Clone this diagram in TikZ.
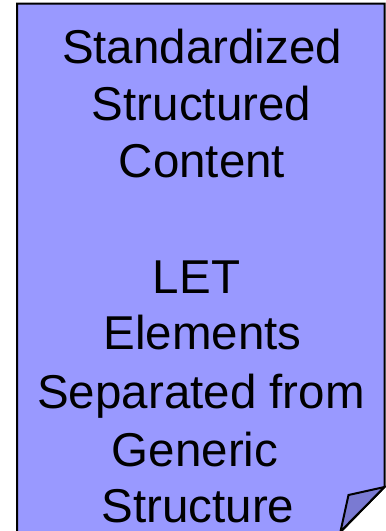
\documentclass[tikz,border=0pt]{standalone}
\usepackage{fontspec}
\setmainfont{Liberation Sans}
\usepackage{tikz}
\definecolor{pagefill}{RGB}{153,153,255}
\definecolor{flapfill}{RGB}{122,122,210}
\tikzset{
    pageline/.style={draw=black, line width=2pt, line join=miter},
    doctext/.style={inner sep=0pt, anchor=base, font=\fontsize{47.5pt}{57.5pt}\selectfont}
}

\begin{document}
\begin{tikzpicture}[x=1pt, y=-1pt]
    \useasboundingbox (0,0) rectangle (386,531);
    % page with folded corner, bottom edge just below the picture
    \draw[pageline, fill=pagefill] (17,3.5) -- (384.5,3.5) -- (384.5,487) -- (340,532.5) -- (17,532.5) -- cycle;
    \draw[pageline, fill=flapfill] (384.5,487) -- (348.5,495) -- (340.5,531.5) -- cycle;
    % text lines, one per baseline
    \foreach \txt/\x/\y [count=\i] in {Standardized/202/63, Structured/201.5/120.5, Content/202/177.5,
        LET/196.5/293, Elements/202.5/349.5, Separated from/201/408, Generic/195/466.5, Structure/198/522.5}
        \node[doctext] (line\i) at (\x,\y) {\txt};
\end{tikzpicture}
\end{document}
